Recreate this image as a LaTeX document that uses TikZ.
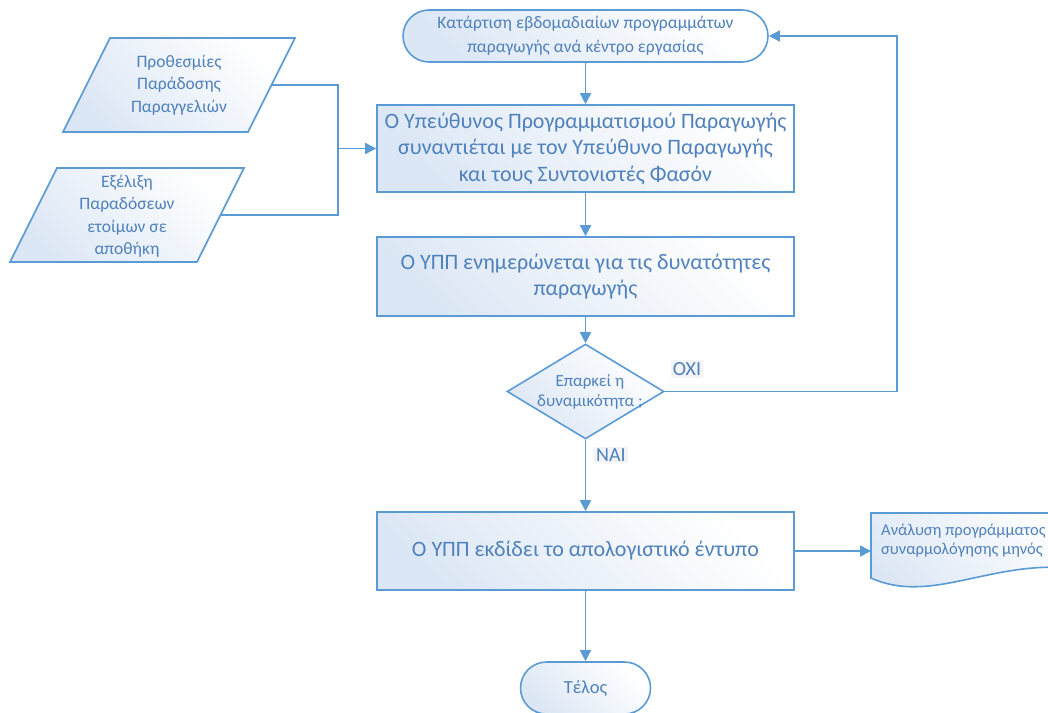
\documentclass[tikz,border=0pt]{standalone}
\usepackage{fontspec}
\setmainfont{Carlito}
\usetikzlibrary{shapes.geometric,arrows.meta,calc}
\definecolor{lineblue}{RGB}{91,155,213}
\definecolor{textblue}{RGB}{79,129,189}
\definecolor{fillblue}{RGB}{220,231,245}
\definecolor{labelbg}{RGB}{243,244,247}
\begin{document}
\begin{tikzpicture}[x=1pt,y=-1pt,
  every node/.style={text=textblue},
  base/.style={draw=lineblue, line width=1.6pt, top color=white, bottom color=fillblue, shading angle=-45},
  procbox/.style={base, rectangle, minimum width=417pt, inner sep=0pt, align=center,
    font=\fontsize{22}{26.5}\selectfont},
  term/.style={base, rectangle, minimum height=52pt, rounded corners=26pt, inner sep=0pt, align=center},
  txt/.style={align=center, inner sep=0pt},
  yesno/.style={fill=labelbg, inner sep=2pt, font=\fontsize{20}{22}\selectfont},
  link/.style={draw=lineblue, line width=1.6pt},
  arrow/.style={link, -{Triangle[length=11pt,width=11pt]}}
]
\clip (0,0) rectangle (1048,712);

% start terminal
\node[term, minimum width=365pt, font=\fontsize{17.5}{24}\selectfont] (top) at (585.5,36)
  {Κατάρτιση εβδομαδιαίων προγραμμάτων\\παραγωγής ανά κέντρο εργασίας};

% input data (parallelograms)
\path[base] (110,38) -- (295,38) -- (248,132) -- (63,132) -- cycle;
\node[txt, font=\fontsize{17.5}{22.5}\selectfont] (p1) at (179,85)
  {Προθεσμίες\\Παράδοσης\\Παραγγελιών};
\coordinate (p1e) at (271.5,85);

\path[base] (57,168) -- (244,168) -- (197,262) -- (10,262) -- cycle;
\node[txt, font=\fontsize{17.5}{22.5}\selectfont] (p2) at (127,216)
  {Εξέλιξη\\Παραδόσεων\\ετοίμων σε\\αποθήκη};
\coordinate (p2e) at (220.5,215);

\coordinate (j) at (338,148.5);

% process steps
\node[procbox, minimum height=87pt] (b1) at (585.5,148.5)
  {Ο Υπεύθυνος Προγραμματισμού Παραγωγής\\συναντιέται με τον Υπεύθυνο Παραγωγής\\και τους Συντονιστές Φασόν};
\node[procbox, minimum height=79pt] (b2) at (585.5,276.5)
  {Ο ΥΠΠ ενημερώνεται για τις δυνατότητες\\παραγωγής};

% decision
\node[base, diamond, minimum width=157pt, minimum height=95pt, inner sep=0pt] (dec) at (585.5,391.5) {};
\node[txt, font=\fontsize{17}{20}\selectfont] (dectext) at (590,392) {Επαρκεί η\\δυναμικότητα ;};

\node[procbox, minimum height=78pt] (b3) at (585.5,551)
  {Ο ΥΠΠ εκδίδει το απολογιστικό έντυπο};

% output document
\path[base] (871,513) -- (1090,513) -- (1090,571)
  .. controls (1000,553) and (935,607) .. (871,578) -- cycle;
\node[txt, anchor=west, align=left, font=\fontsize{16.5}{19}\selectfont] (doc) at (881,541)
  {Ανάλυση προγράμματος\\συναρμολόγησης μηνός};
\coordinate (docw) at (871,551);

% end terminal
\node[term, minimum width=130pt, font=\fontsize{18.5}{20}\selectfont] (end) at (585.5,688) {Τέλος};

% connectors
\draw[link] (p1e) -| (j);
\draw[link] (p2e) -| (j);
\draw[arrow] (j) -- (b1.west |- j);
\draw[arrow] (top) -- (b1);
\draw[arrow] (b1) -- (b2);
\draw[arrow] (b2) -- (dec);
\draw[arrow] (dec) -- (b3);
\coordinate (loopc) at (897,391.5);
\draw[arrow] (dec.east) -- (loopc) |- (top.east);
\draw[arrow] (b3.east |- docw) -- (docw);
\draw[arrow] (b3) -- (end);

\node[yesno] (oxi) at (687,369) {ΟΧΙ};
\node[yesno] (nai) at (611,455) {ΝΑΙ};
\end{tikzpicture}
\end{document}
